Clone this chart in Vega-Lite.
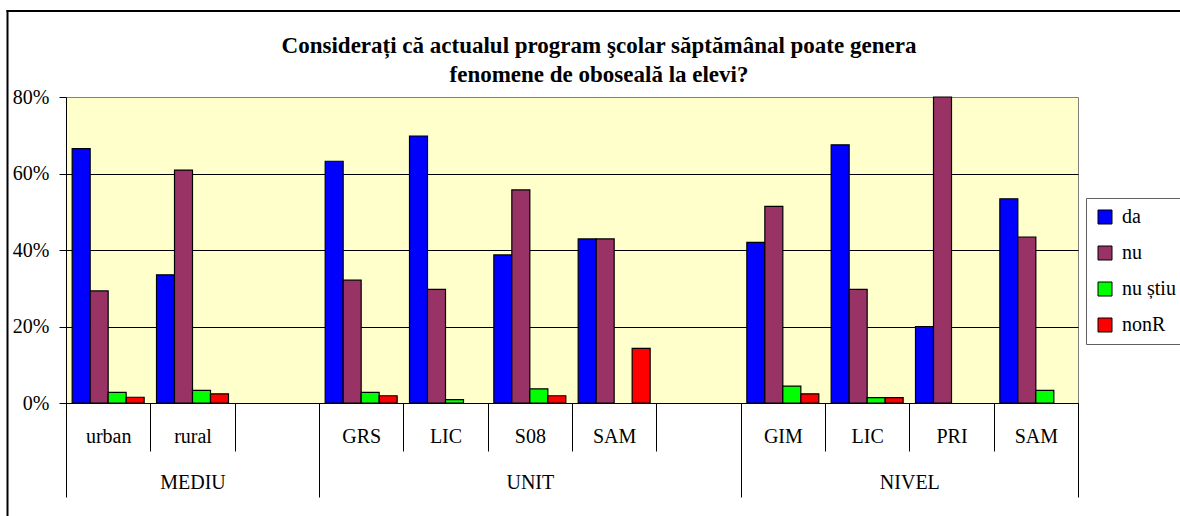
{
  "$schema": "https://vega.github.io/schema/vega-lite/v6.json",
  "autosize": {"type": "none"},
  "padding": {"left": 66, "top": 97, "right": 102, "bottom": 113},
  "width": 1012,
  "height": 306,
  "background": "white",
  "title": {
    "text": ["Considerați că actualul program şcolar săptămânal poate genera", "fenomene de oboseală la elevi?"],
    "font": "Liberation Serif",
    "fontSize": 23,
    "fontWeight": "bold",
    "color": "black",
    "anchor": "middle",
    "dx": 27,
    "dy": 84,
    "lineHeight": 29,
    "offset": 8
  },
  "config": {
    "view": {"fill": "#FFFFCC", "stroke": "#808080", "strokeWidth": 1},
    "axis": {
      "labelFont": "Liberation Serif",
      "labelFontSize": 20,
      "labelColor": "black",
      "domainColor": "black",
      "tickColor": "black",
      "title": null
    },
    "legend": {
      "labelFont": "Liberation Serif",
      "labelFontSize": 20,
      "labelColor": "black"
    }
  },
  "datasets": {
    "bars": [
      {"slot": "MEDIU/urban", "serie": "da", "pct": 0.665},
      {"slot": "MEDIU/urban", "serie": "nu", "pct": 0.293},
      {"slot": "MEDIU/urban", "serie": "nu știu", "pct": 0.028},
      {"slot": "MEDIU/urban", "serie": "nonR", "pct": 0.015},
      {"slot": "MEDIU/rural", "serie": "da", "pct": 0.335},
      {"slot": "MEDIU/rural", "serie": "nu", "pct": 0.609},
      {"slot": "MEDIU/rural", "serie": "nu știu", "pct": 0.033},
      {"slot": "MEDIU/rural", "serie": "nonR", "pct": 0.024},
      {"slot": "UNIT/GRS", "serie": "da", "pct": 0.632},
      {"slot": "UNIT/GRS", "serie": "nu", "pct": 0.321},
      {"slot": "UNIT/GRS", "serie": "nu știu", "pct": 0.028},
      {"slot": "UNIT/GRS", "serie": "nonR", "pct": 0.019},
      {"slot": "UNIT/LIC", "serie": "da", "pct": 0.698},
      {"slot": "UNIT/LIC", "serie": "nu", "pct": 0.297},
      {"slot": "UNIT/LIC", "serie": "nu știu", "pct": 0.009},
      {"slot": "UNIT/S08", "serie": "da", "pct": 0.387},
      {"slot": "UNIT/S08", "serie": "nu", "pct": 0.557},
      {"slot": "UNIT/S08", "serie": "nu știu", "pct": 0.037},
      {"slot": "UNIT/S08", "serie": "nonR", "pct": 0.019},
      {"slot": "UNIT/SAM", "serie": "da", "pct": 0.429},
      {"slot": "UNIT/SAM", "serie": "nu", "pct": 0.429},
      {"slot": "UNIT/SAM", "serie": "nonR", "pct": 0.143},
      {"slot": "NIVEL/GIM", "serie": "da", "pct": 0.42},
      {"slot": "NIVEL/GIM", "serie": "nu", "pct": 0.514},
      {"slot": "NIVEL/GIM", "serie": "nu știu", "pct": 0.044},
      {"slot": "NIVEL/GIM", "serie": "nonR", "pct": 0.024},
      {"slot": "NIVEL/LIC", "serie": "da", "pct": 0.675},
      {"slot": "NIVEL/LIC", "serie": "nu", "pct": 0.297},
      {"slot": "NIVEL/LIC", "serie": "nu știu", "pct": 0.014},
      {"slot": "NIVEL/LIC", "serie": "nonR", "pct": 0.014},
      {"slot": "NIVEL/PRI", "serie": "da", "pct": 0.2},
      {"slot": "NIVEL/PRI", "serie": "nu", "pct": 0.8},
      {"slot": "NIVEL/SAM", "serie": "da", "pct": 0.534},
      {"slot": "NIVEL/SAM", "serie": "nu", "pct": 0.434},
      {"slot": "NIVEL/SAM", "serie": "nu știu", "pct": 0.033}
    ],
    "groups": [
      {"grupa": "MEDIU", "mid": 1.5},
      {"grupa": "UNIT", "mid": 5.5},
      {"grupa": "NIVEL", "mid": 10}
    ]
  },
  "layer": [
    {
      "data": {"name": "bars"},
      "mark": {"type": "bar", "stroke": "black", "strokeWidth": 1.2},
      "encoding": {
        "x": {
          "field": "slot",
          "type": "nominal",
          "sort": null,
          "scale": {
            "domain": ["MEDIU/urban", "MEDIU/rural", "MEDIU/-", "UNIT/GRS", "UNIT/LIC", "UNIT/S08", "UNIT/SAM", "UNIT/-", "NIVEL/GIM", "NIVEL/LIC", "NIVEL/PRI", "NIVEL/SAM"],
            "paddingInner": 0,
            "paddingOuter": 0
          },
          "axis": {
            "orient": "bottom",
            "labelAngle": 0,
            "labelFont": "Liberation Serif",
            "labelFontSize": 20,
            "tickBand": "extent",
            "tickSize": 48,
            "labelPadding": -15,
            "labelBaseline": "middle",
            "domainWidth": 1,
            "labelExpr": "split(datum.label, '/')[1] == '-' ? '' : split(datum.label, '/')[1]"
          }
        },
        "xOffset": {
          "field": "serie",
          "type": "nominal",
          "scale": {"domain": ["da", "nu", "nu știu", "nonR"], "paddingInner": 0, "paddingOuter": 0.343}
        },
        "y": {
          "field": "pct",
          "type": "quantitative",
          "scale": {"domain": [0, 0.8], "nice": false},
          "axis": {
            "orient": "left",
            "values": [0, 0.2, 0.4, 0.6, 0.8],
            "format": ".0%",
            "labelFont": "Liberation Serif",
            "labelFontSize": 20,
            "tickSize": 7,
            "labelPadding": 10,
            "grid": true,
            "gridColor": "black",
            "gridWidth": 1,
            "gridOpacity": {"condition": {"test": "datum.value > 0.79", "value": 0}, "value": 1}
          }
        },
        "color": {
          "field": "serie",
          "type": "nominal",
          "scale": {"domain": ["da", "nu", "nu știu", "nonR"], "range": ["#0000FF", "#993366", "#00FF00", "#FF0000"]},
          "legend": {
            "title": null,
            "orient": "none",
            "legendX": 1020,
            "legendY": 101,
            "labelFont": "Liberation Serif",
            "labelFontSize": 20,
            "symbolType": "square",
            "symbolSize": 196,
            "symbolStrokeColor": "black",
            "symbolStrokeWidth": 1,
            "symbolOpacity": 1,
            "labelOffset": 7,
            "rowPadding": 16,
            "padding": 9,
            "strokeColor": "#606060",
            "fillColor": "white"
          }
        }
      }
    },
    {
      "data": {"name": "groups"},
      "mark": {"type": "point", "opacity": 0},
      "encoding": {
        "x": {
          "field": "mid",
          "type": "quantitative",
          "scale": {"domain": [0, 12], "nice": false, "zero": false},
          "axis": {
            "orient": "bottom",
            "values": [0, 1.5, 3, 5.5, 8, 10, 12],
            "labelFont": "Liberation Serif",
            "labelFontSize": 20,
            "domain": false,
            "grid": false,
            "tickSize": 94,
            "tickOpacity": {"condition": {"test": "datum.value % 1 != 0 || datum.value == 10", "value": 0}, "value": 1},
            "labelPadding": -15,
            "labelBaseline": "middle",
            "labelFlush": false,
            "labelOverlap": false,
            "labelExpr": "datum.value == 1.5 ? 'MEDIU' : datum.value == 5.5 ? 'UNIT' : datum.value == 10 ? 'NIVEL' : ''"
          }
        }
      }
    },
    {
      "data": {"name": "groups"},
      "mark": {"type": "point", "opacity": 0},
      "encoding": {
        "x": {
          "field": "mid",
          "type": "quantitative",
          "scale": {"domain": [0, 12], "nice": false, "zero": false, "range": [-60, 1114]},
          "axis": {
            "orient": "top",
            "offset": 86.5,
            "domainWidth": 2,
            "domainColor": "black",
            "ticks": false,
            "labels": false,
            "grid": false
          }
        },
        "y": {
          "field": "mid",
          "type": "quantitative",
          "scale": {"domain": [0, 12], "nice": false, "zero": false, "range": [419, -87.5]},
          "axis": {
            "orient": "left",
            "offset": 59,
            "domainWidth": 2,
            "domainColor": "black",
            "ticks": false,
            "labels": false,
            "grid": false
          }
        }
      }
    }
  ],
  "resolve": {"scale": {"x": "independent", "y": "independent"}, "axis": {"x": "independent", "y": "independent"}}
}
